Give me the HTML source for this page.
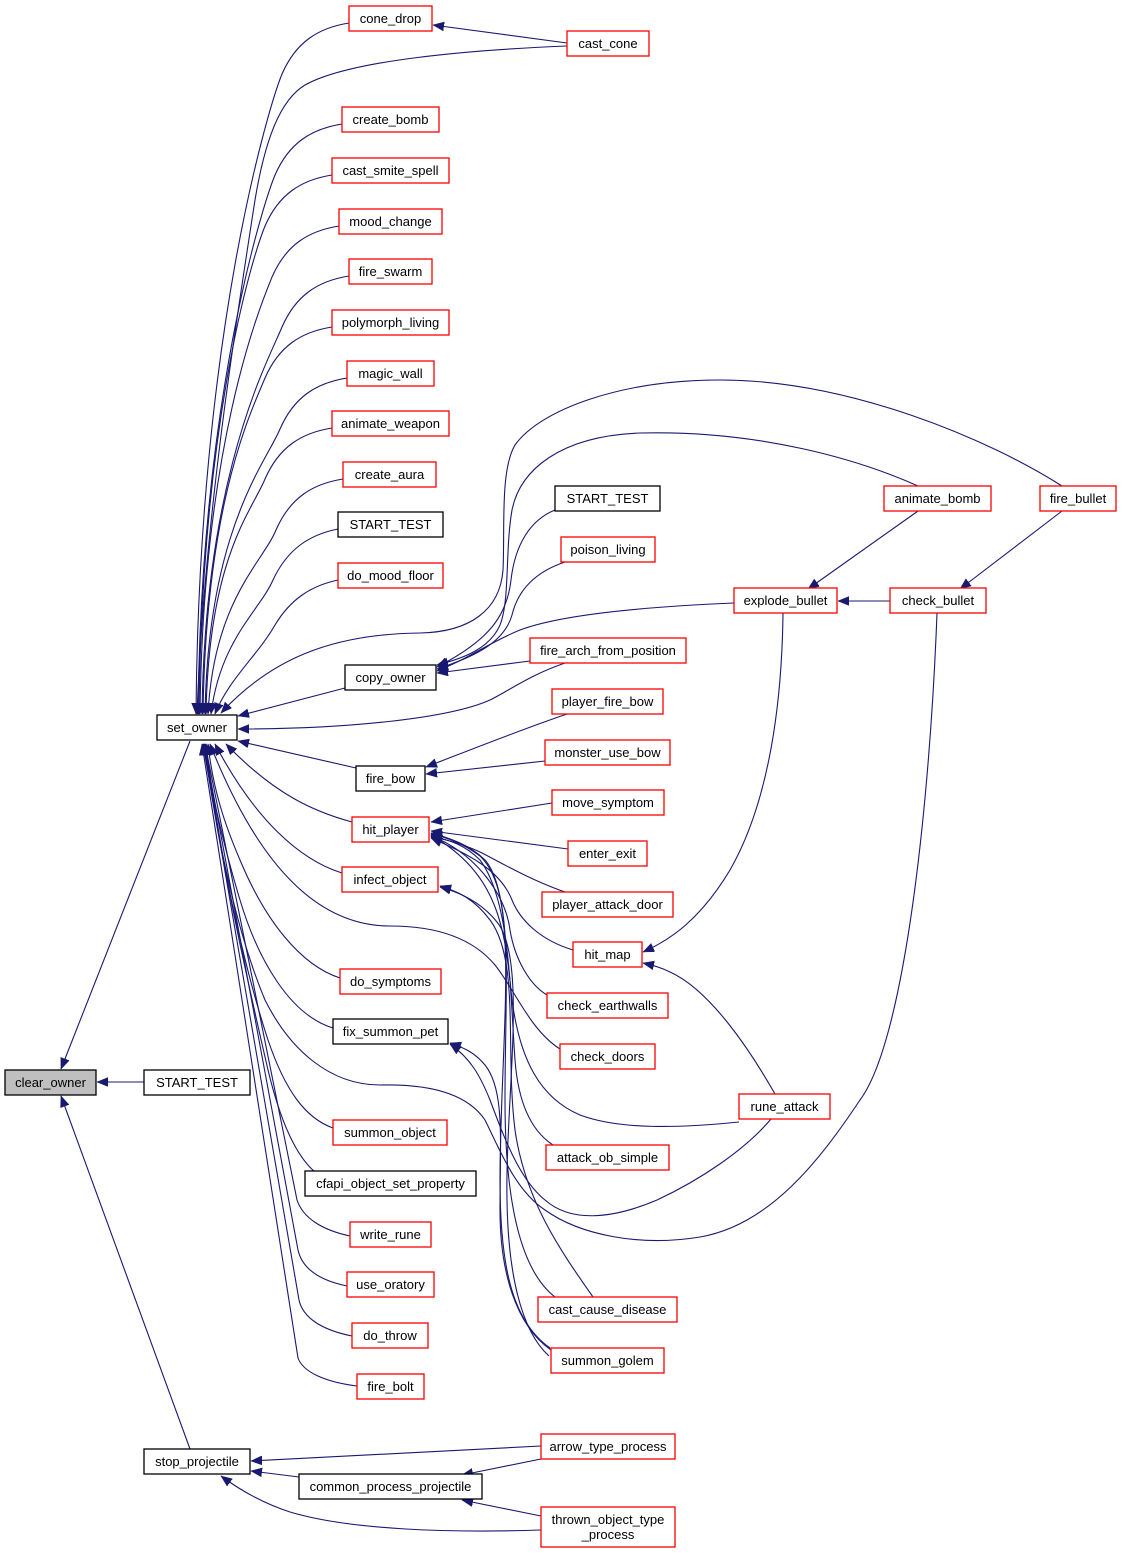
<!DOCTYPE html>
<html>
<head>
<meta charset="utf-8">
<style>
html,body{margin:0;padding:0;background:#fff;}
svg{display:block;}
text{font-family:"Liberation Sans",Arial,sans-serif;font-size:13px;fill:#000;text-anchor:middle;}
.r{fill:#fff;stroke:#ff0000;stroke-width:1.3;}
.b{fill:#fff;stroke:#000;stroke-width:1.3;}
.e{fill:none;stroke:#191970;stroke-width:1.1;marker-end:url(#a);}
</style>
</head>
<body>
<svg width="1123" height="1553" viewBox="0 0 1123 1553" xmlns="http://www.w3.org/2000/svg">
<defs>
<marker id="a" markerUnits="userSpaceOnUse" markerWidth="13" markerHeight="11" refX="11" refY="4.5" orient="auto">
<path d="M0,0 L11,4.5 L0,9 z" fill="#191970" stroke="#191970" stroke-width="0.5"/>
</marker>
</defs>

<!-- ===== EDGES ===== -->
<!-- clear_owner callers -->
<path class="e" d="M190,741 L61,1069"/>
<path class="e" d="M144,1082 L97,1082"/>
<path class="e" d="M190,1449 L61,1096"/>

<!-- set_owner top callers -->
<path class="e" d="M349,23 C318,28 296,42 282,74 C269,106 199,333 196,714"/>
<path class="e" d="M567,46 C470,50 350,60 305,85 C280,100 265,140 255,200 C238,310 204,520 197,714"/>
<path class="e" d="M342,124 C311,129 289,143 275,175 C262,207 201,400 198,714"/>
<path class="e" d="M332,175 C301,180 279,194 265,226 C252,258 202,420 199,714"/>
<path class="e" d="M339,226 C308,231 286,245 272,277 C259,309 203,445 200,714"/>
<path class="e" d="M349,276 C318,281 296,295 282,327 C269,359 205,472 202,714"/>
<path class="e" d="M332,327 C301,332 279,346 265,378 C252,410 206,500 203,714"/>
<path class="e" d="M347,378 C316,383 294,397 280,429 C267,461 208,528 205,714"/>
<path class="e" d="M332,428 C301,433 279,447 265,479 C252,511 209,556 206,714"/>
<path class="e" d="M343,479 C312,484 290,498 276,530 C263,562 214,600 208,714"/>
<path class="e" d="M338,529 C308,535 287,550 273,580 C260,610 220,640 211,714"/>
<path class="e" d="M338,580 C310,586 290,600 275,625 C258,655 228,680 215,714"/>
<path class="e" d="M1062,486 C990,440 850,380 720,380 C620,380 540,410 515,445 C500,470 505,530 503,570 C500,610 470,632 420,633 C330,634 270,660 221,713"/>

<!-- copy_owner callers -->
<path class="e" d="M918,486 C860,460 760,430 640,433 C560,436 520,470 512,510 C505,550 510,600 500,625 C490,648 465,658 437,665"/>
<path class="e" d="M555,510 C530,520 515,545 511,580 C507,615 490,640 437,667"/>
<path class="e" d="M565,562 C535,572 518,590 512,615 C505,640 480,655 437,669"/>
<path class="e" d="M734,603 C640,607 560,615 520,630 C490,642 470,658 437,671"/>
<path class="e" d="M530,661 L437,673"/>

<!-- set_owner right callers -->
<path class="e" d="M345,688 L238,716"/>
<path class="e" d="M565,663 C530,675 510,690 490,700 C450,718 350,729 238,729"/>
<path class="e" d="M356,768 L238,741"/>

<!-- fire_bow callers -->
<path class="e" d="M567,714 C520,730 470,750 426,767"/>
<path class="e" d="M545,761 L426,774"/>

<!-- set_owner bottom callers -->
<path class="e" d="M352,822 C315,812 275,795 226,744"/>
<path class="e" d="M342,873 C300,860 255,820 215,744"/>
<path class="e" d="M560,1049 C530,1030 515,990 495,965 C470,935 430,926 390,926 C320,926 260,870 210,744"/>
<path class="e" d="M340,978 C300,965 265,920 240,860 C225,825 213,790 208,744"/>
<path class="e" d="M333,1028 C290,1015 258,960 240,900 C225,850 210,790 205,744"/>
<path class="e" d="M937,613 C930,800 905,1040 860,1100 C820,1160 770,1225 700,1237 C640,1247 580,1235 545,1210 C515,1190 500,1150 485,1120 C465,1090 420,1084 380,1085 C330,1085 290,1050 265,1000 C240,940 215,840 206,744"/>
<path class="e" d="M333,1128 C305,1118 285,1090 268,1040 C245,970 220,860 204,744"/>
<path class="e" d="M315,1172 C295,1155 280,1120 268,1070 C245,970 220,860 206,744"/>
<path class="e" d="M350,1236 C322,1230 303,1218 297,1200 L205,744"/>
<path class="e" d="M347,1286 C318,1280 302,1268 298,1250 L204,744"/>
<path class="e" d="M352,1336 C322,1330 303,1318 299,1300 L203,744"/>
<path class="e" d="M357,1386 C325,1382 303,1372 298,1358 L202,744"/>

<!-- rune_attack bottom -> fix_summon_pet -->
<path class="e" d="M771,1119 C745,1150 700,1180 657,1200 C610,1220 570,1222 545,1200 C520,1180 505,1140 490,1100 C480,1075 470,1058 450,1044"/>
<!-- summon_golem -> fix_summon_pet -->
<path class="e" d="M551,1350 C515,1325 500,1270 500,1210 C500,1140 505,1090 485,1065 C475,1053 465,1048 450,1043"/>

<!-- hit_player callers -->
<path class="e" d="M552,803 L431,822"/>
<path class="e" d="M568,849 L431,831"/>
<path class="e" d="M565,892 C530,880 500,862 480,852 C465,845 450,840 431,837"/>
<path class="e" d="M573,950 C540,940 520,920 512,900 C500,870 470,855 431,838"/>
<path class="e" d="M547,995 C530,985 515,960 510,930 C505,890 470,850 431,836"/>
<path class="e" d="M739,1122 C680,1128 620,1130 580,1115 C540,1098 520,1060 512,1000 C505,930 500,875 431,835"/>
<path class="e" d="M553,1145 C530,1130 518,1100 515,1060 C510,990 510,900 480,860 C465,845 450,840 431,836"/>
<path class="e" d="M555,1297 C520,1270 505,1200 505,1100 C505,980 515,890 480,856 C465,845 450,838 431,834"/>
<path class="e" d="M550,1348 C510,1320 500,1260 500,1180 C500,1050 520,900 485,860 C470,845 450,838 431,833"/>

<!-- infect_object callers -->
<path class="e" d="M593,1297 C560,1250 525,1200 515,1130 C505,1050 520,960 490,920 C475,900 460,892 440,886"/>
<path class="e" d="M549,1356 C520,1330 508,1270 507,1200 C505,1100 528,960 497,922 C482,903 462,893 440,887"/>

<!-- right side -->
<path class="e" d="M567,43 L433,25"/>
<path class="e" d="M918,511 L808,589"/>
<path class="e" d="M1062,511 L960,589"/>
<path class="e" d="M890,601 L838,601"/>
<path class="e" d="M783,613 C782,700 770,800 730,870 C700,920 670,940 643,952"/>
<path class="e" d="M775,1094 C750,1050 710,990 670,972 C660,967 652,965 643,963"/>

<!-- stop_projectile callers -->
<path class="e" d="M541,1446 L251,1461"/>
<path class="e" d="M299,1477 L251,1471"/>
<path class="e" d="M541,1530 C450,1533 350,1530 290,1512 C262,1503 240,1490 221,1476"/>
<path class="e" d="M541,1459 L462,1475"/>
<path class="e" d="M541,1516 L462,1500"/>

<!-- ===== NODES ===== -->
<rect x="5" y="1070" width="91" height="25" fill="#bfbfbf" stroke="#000" stroke-width="1.3"/>
<text x="50.5" y="1087">clear_owner</text>

<rect class="b" x="157" y="715" width="80" height="25"/><text x="197" y="732">set_owner</text>
<rect class="b" x="144" y="1070" width="106" height="25"/><text x="197" y="1087">START_TEST</text>
<rect class="b" x="144" y="1449" width="106" height="25"/><text x="197" y="1466">stop_projectile</text>

<rect class="r" x="349" y="6" width="83" height="25"/><text x="390.5" y="23">cone_drop</text>
<rect class="r" x="342" y="107" width="97" height="25"/><text x="390.5" y="124">create_bomb</text>
<rect class="r" x="332" y="158" width="117" height="25"/><text x="390.5" y="175">cast_smite_spell</text>
<rect class="r" x="339" y="209" width="103" height="25"/><text x="390.5" y="226">mood_change</text>
<rect class="r" x="349" y="259" width="83" height="25"/><text x="390.5" y="276">fire_swarm</text>
<rect class="r" x="332" y="310" width="117" height="25"/><text x="390.5" y="327">polymorph_living</text>
<rect class="r" x="347" y="361" width="87" height="25"/><text x="390.5" y="378">magic_wall</text>
<rect class="r" x="332" y="411" width="117" height="25"/><text x="390.5" y="428">animate_weapon</text>
<rect class="r" x="343" y="462" width="93" height="25"/><text x="389.5" y="479">create_aura</text>
<rect class="b" x="338" y="512" width="105" height="25"/><text x="390.5" y="529">START_TEST</text>
<rect class="r" x="338" y="563" width="105" height="25"/><text x="390.5" y="580">do_mood_floor</text>
<rect class="b" x="345" y="665" width="91" height="25"/><text x="390.5" y="682">copy_owner</text>
<rect class="b" x="356" y="766" width="69" height="25"/><text x="390.5" y="783">fire_bow</text>
<rect class="r" x="352" y="817" width="77" height="25"/><text x="390.5" y="834">hit_player</text>
<rect class="r" x="342" y="867" width="96" height="25"/><text x="390" y="884">infect_object</text>
<rect class="r" x="340" y="969" width="101" height="25"/><text x="390.5" y="986">do_symptoms</text>
<rect class="b" x="333" y="1019" width="115" height="25"/><text x="390.5" y="1036">fix_summon_pet</text>
<rect class="r" x="333" y="1120" width="114" height="25"/><text x="390" y="1137">summon_object</text>
<rect class="b" x="305" y="1171" width="171" height="25"/><text x="390.5" y="1188">cfapi_object_set_property</text>
<rect class="r" x="350" y="1222" width="81" height="25"/><text x="390.5" y="1239">write_rune</text>
<rect class="r" x="347" y="1272" width="87" height="25"/><text x="390.5" y="1289">use_oratory</text>
<rect class="r" x="352" y="1323" width="76" height="25"/><text x="390" y="1340">do_throw</text>
<rect class="r" x="357" y="1374" width="67" height="25"/><text x="390.5" y="1391">fire_bolt</text>
<rect class="b" x="299" y="1474" width="183" height="25"/><text x="390.5" y="1491">common_process_projectile</text>

<rect class="r" x="567" y="31" width="82" height="25"/><text x="608" y="48">cast_cone</text>
<rect class="b" x="555" y="486" width="105" height="25"/><text x="607.5" y="503">START_TEST</text>
<rect class="r" x="561" y="537" width="94" height="25"/><text x="608" y="554">poison_living</text>
<rect class="r" x="530" y="638" width="156" height="25"/><text x="608" y="655">fire_arch_from_position</text>
<rect class="r" x="552" y="689" width="111" height="25"/><text x="607.5" y="706">player_fire_bow</text>
<rect class="r" x="545" y="740" width="125" height="25"/><text x="607.5" y="757">monster_use_bow</text>
<rect class="r" x="552" y="790" width="112" height="25"/><text x="608" y="807">move_symptom</text>
<rect class="r" x="568" y="841" width="79" height="25"/><text x="607.5" y="858">enter_exit</text>
<rect class="r" x="542" y="892" width="131" height="25"/><text x="607.5" y="909">player_attack_door</text>
<rect class="r" x="573" y="942" width="69" height="25"/><text x="607.5" y="959">hit_map</text>
<rect class="r" x="547" y="993" width="121" height="25"/><text x="607.5" y="1010">check_earthwalls</text>
<rect class="r" x="560" y="1044" width="95" height="25"/><text x="607.5" y="1061">check_doors</text>
<rect class="r" x="546" y="1145" width="123" height="25"/><text x="607.5" y="1162">attack_ob_simple</text>
<rect class="r" x="538" y="1297" width="139" height="25"/><text x="607.5" y="1314">cast_cause_disease</text>
<rect class="r" x="551" y="1348" width="113" height="25"/><text x="607.5" y="1365">summon_golem</text>
<rect class="r" x="541" y="1434" width="134" height="25"/><text x="608" y="1451">arrow_type_process</text>
<rect class="r" x="541" y="1507" width="134" height="40"/><text x="608" y="1524">thrown_object_type</text><text x="608" y="1539">_process</text>

<rect class="r" x="734" y="588" width="103" height="25"/><text x="785.5" y="605">explode_bullet</text>
<rect class="r" x="739" y="1094" width="91" height="25"/><text x="784.5" y="1111">rune_attack</text>
<rect class="r" x="884" y="486" width="107" height="25"/><text x="937.5" y="503">animate_bomb</text>
<rect class="r" x="890" y="588" width="96" height="25"/><text x="938" y="605">check_bullet</text>
<rect class="r" x="1040" y="486" width="76" height="25"/><text x="1078" y="503">fire_bullet</text>
</svg>
</body>
</html>
